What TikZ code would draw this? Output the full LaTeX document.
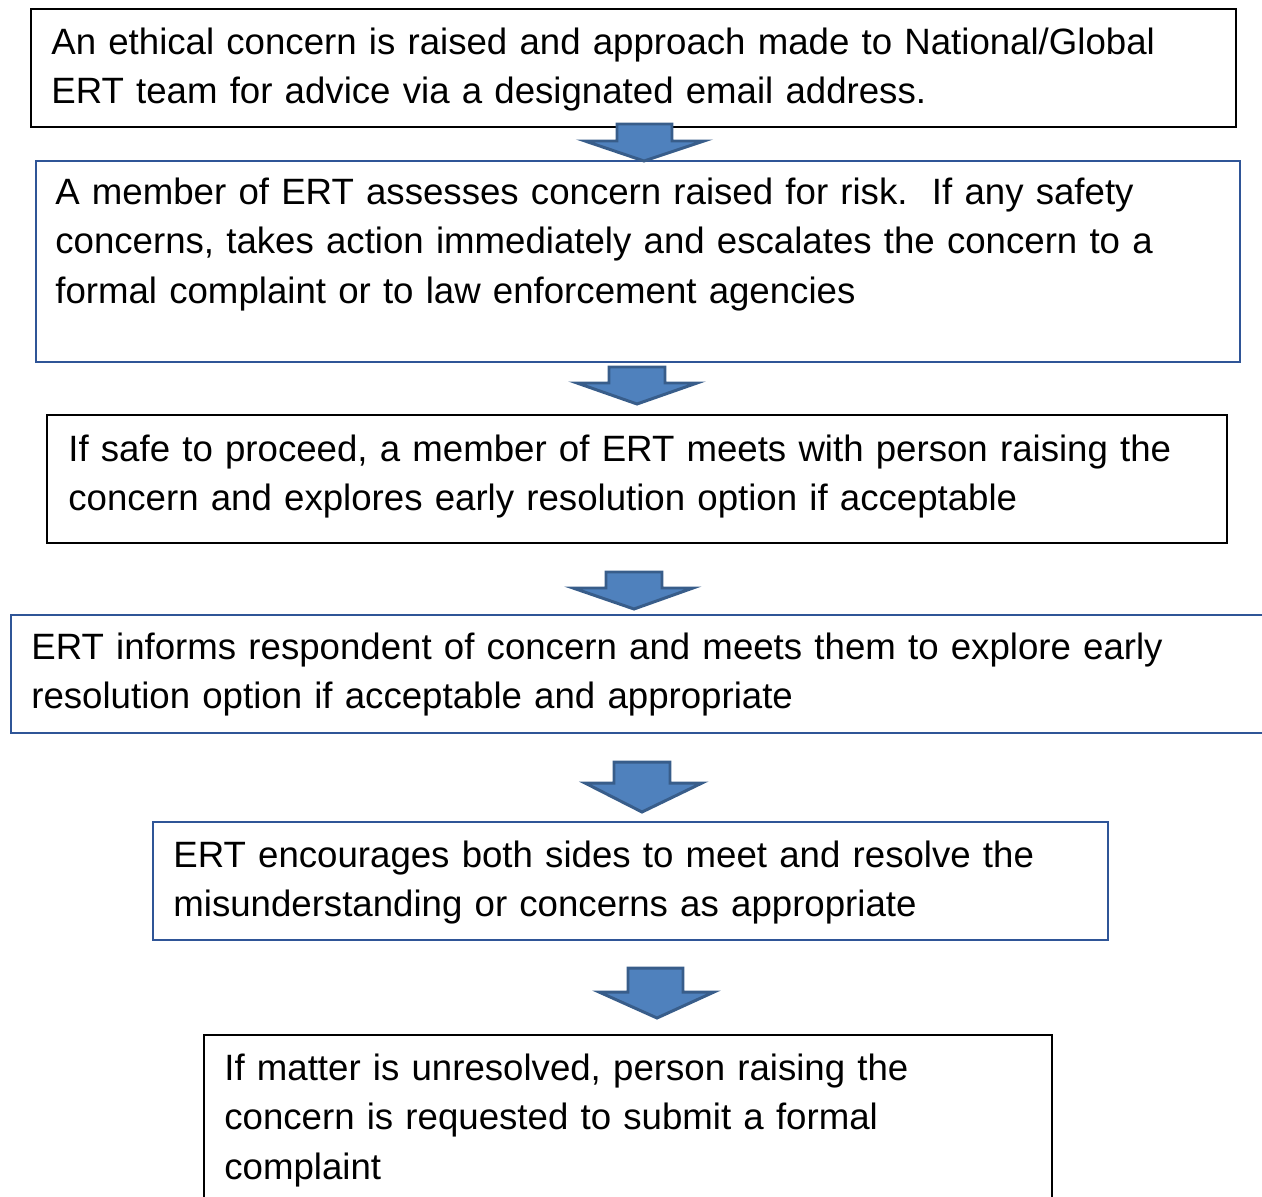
\documentclass[tikz,border=0pt]{standalone}
\usepackage{fontspec}
\setmainfont{Liberation Sans}
\usepackage{xcolor}
\usepackage{tikz}
\usetikzlibrary{positioning}

\definecolor{boxblue}{RGB}{47,85,151}
\definecolor{arrowfill}{RGB}{79,129,189}
\definecolor{arrowline}{RGB}{56,93,138}

\begin{document}
\begin{tikzpicture}[x=0.02cm,y=-0.02cm,
    box/.style={draw=black, line width=0.9pt, inner sep=0pt, outer sep=0pt, anchor=north west},
    bluebox/.style={box, draw=boxblue},
    boxtext/.style={anchor=base west, inner sep=0pt, align=left, text width=24cm,
      font=\fontsize{20.85}{28.3}\selectfont},
    blockarrow/.style={fill=arrowfill, draw=arrowline, line width=1.7pt, line join=miter}]

  \useasboundingbox (0,0) rectangle (1262,1197);
  \clip (0,0) rectangle (1262,1197);

  % the steps
  \node[box, minimum width=24.10cm, minimum height=2.36cm] (Raise) at (31,9) {};
  \node[boxtext] (RaiseText) at (51,54)
    {An ethical concern is raised and approach made to National/Global\\
     ERT team for advice via a designated email address.};

  \node[bluebox, minimum width=24.08cm, minimum height=4.02cm] (Assess) at (36,161) {};
  \node[boxtext] (AssessText) at (55,204)
    {A member of ERT assesses concern raised for risk.\ \ If any safety\\
     concerns, takes action immediately and escalates the concern to a\\
     formal complaint or to law enforcement agencies};

  \node[box, minimum width=23.60cm, minimum height=2.56cm] (Meet) at (47,415) {};
  \node[boxtext] (MeetText) at (68,461)
    {If safe to proceed, a member of ERT meets with person raising the\\
     concern and explores early resolution option if acceptable};

  \node[bluebox, minimum width=25.50cm, minimum height=2.36cm] (Inform) at (11,615) {};
  \node[boxtext] (InformText) at (31,659)
    {ERT informs respondent of concern and meets them to explore early\\
     resolution option if acceptable and appropriate};

  \node[bluebox, minimum width=19.10cm, minimum height=2.36cm] (Encourage) at (153,822) {};
  \node[boxtext] (EncourageText) at (173,867)
    {ERT encourages both sides to meet and resolve the\\
     misunderstanding or concerns as appropriate};

  \node[box, minimum width=16.96cm, minimum height=4.00cm] (Complain) at (204,1035) {};
  \node[boxtext] (ComplainText) at (224,1080)
    {If matter is unresolved, person raising the\\
     concern is requested to submit a formal\\
     complaint};

  % block arrows between the steps
  \draw[blockarrow] (617,124) -- (672,124) -- (672,141) -- (704,141) -- (644,161)
    -- (585,141) -- (617,141) -- cycle;
  \draw[blockarrow] (609,367) -- (665,367) -- (665,383) -- (697,383) -- (637,404)
    -- (577,383) -- (609,383) -- cycle;
  \draw[blockarrow] (606,572) -- (662,572) -- (662,588) -- (693,588) -- (634,609)
    -- (573,588) -- (606,588) -- cycle;
  \draw[blockarrow] (614,762) -- (670,762) -- (670,783) -- (702,783) -- (642,812)
    -- (585,783) -- (614,783) -- cycle;
  \draw[blockarrow] (628,968) -- (683,968) -- (683,992) -- (714,992) -- (657,1018)
    -- (599,992) -- (628,992) -- cycle;

\end{tikzpicture}
\end{document}
